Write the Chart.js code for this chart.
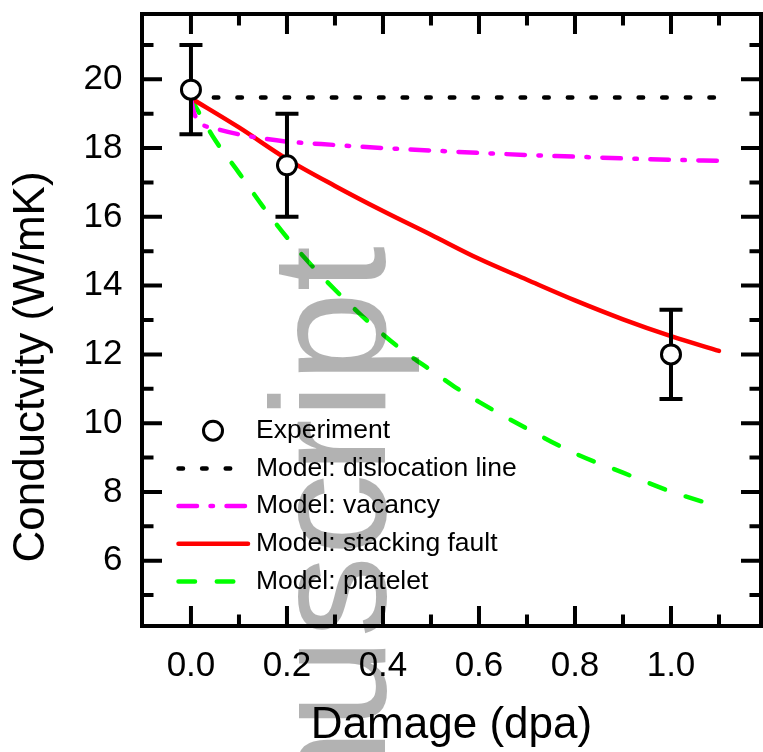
<!DOCTYPE html>
<html>
<head>
<meta charset="utf-8">
<script src="https://cdn.jsdelivr.net/npm/chart.js@4"></script>
<style>
html,body{margin:0;padding:0;background:#fff;}
canvas{display:block;}
</style>
</head>
<body>
<canvas id="c" width="763" height="752"></canvas>
<script>
// ---- data ----
const expX = [0, 0.2, 1.0];
const expY = [19.7, 17.5, 12.0];
const expErr = [1.3, 1.5, 1.3];

const dislX = [0, 1.1];
const dislY = [19.47, 19.47];

const vacX = [0, 0.005, 0.01, 0.02, 0.05, 0.1, 0.15, 0.2, 0.3, 0.4, 0.5, 0.6, 0.7, 0.8, 0.9, 1.0, 1.1];
const vacY = [19.45, 19.1, 18.9, 18.72, 18.57, 18.4, 18.28, 18.19, 18.09, 18.0, 17.93, 17.86, 17.8, 17.75, 17.7, 17.66, 17.63];

const sfX = [0, 0.1, 0.2, 0.3, 0.4, 0.5, 0.6, 0.7, 0.8, 0.9, 1.0, 1.1];
const sfY = [19.45, 18.6, 17.68, 16.9, 16.17, 15.48, 14.78, 14.17, 13.57, 13.02, 12.53, 12.1];

const plX = [0, 0.02, 0.05, 0.1, 0.15, 0.2, 0.25, 0.3, 0.35, 0.4, 0.45, 0.5, 0.55, 0.6, 0.7, 0.8, 0.9, 1.0, 1.1];
const plY = [19.45, 18.95, 18.24, 17.28, 16.3, 15.4, 14.61, 13.88, 13.2, 12.58, 12.02, 11.54, 11.05, 10.62, 9.84, 9.12, 8.56, 8.01, 7.57];

const xTicks = [0, 0.2, 0.4, 0.6, 0.8, 1.0];
const xMinor = [0.1, 0.3, 0.5, 0.7, 0.9, 1.1];
const yTicks = [6, 8, 10, 12, 14, 16, 18, 20];
const yMinor = [5, 7, 9, 11, 13, 15, 17, 19, 21];

const seriesLabels = ['Experiment', 'Model: dislocation line', 'Model: vacancy', 'Model: stacking fault', 'Model: platelet'];
const xTitle = 'Damage (dpa)';
const yTitle = 'Conductvity (W/mK)';
const watermarkText = 'Accepted Manuscript';

// ---- helpers ----
function pts(xs, ys) { return xs.map((x, i) => ({x: x, y: ys[i]})); }

const FONT = "'Liberation Sans', Arial, Helvetica, sans-serif";
Chart.defaults.font.family = FONT;
Chart.defaults.color = '#000';

const LEG = {x0: 178.5, x1: 248, cx: 213, tx: 256, y0: 430.7, dy: 37.7, size: 26.5};

function noPad(s) { s.paddingTop = 0; s.paddingBottom = 0; s.paddingLeft = 0; s.paddingRight = 0; }

const decor = {
  id: 'decor',
  beforeDatasetDraw(chart, args) {
    if (args.index !== 0) return;
    const ctx = chart.ctx, xs = chart.scales.x, ys = chart.scales.y;
    ctx.save();
    ctx.strokeStyle = '#000';
    ctx.lineWidth = 4;
    ctx.lineCap = 'butt';
    ctx.setLineDash([]);
    for (let i = 0; i < expX.length; i++) {
      const px = xs.getPixelForValue(expX[i]);
      const y1 = ys.getPixelForValue(expY[i] + expErr[i]);
      const y2 = ys.getPixelForValue(expY[i] - expErr[i]);
      ctx.beginPath();
      ctx.moveTo(px, y1); ctx.lineTo(px, y2);
      ctx.moveTo(px - 11.5, y1); ctx.lineTo(px + 11.5, y1);
      ctx.moveTo(px - 11.5, y2); ctx.lineTo(px + 11.5, y2);
      ctx.stroke();
    }
    ctx.restore();
  },
  afterDatasetsDraw(chart) {
    const ctx = chart.ctx, a = chart.chartArea, xs = chart.scales.x, ys = chart.scales.y;
    ctx.save();
    ctx.strokeStyle = '#000';
    ctx.lineWidth = 4;
    ctx.setLineDash([]);
    ctx.lineCap = 'butt';
    ctx.lineJoin = 'miter';
    ctx.strokeRect(a.left, a.top, a.right - a.left, a.bottom - a.top);
    ctx.beginPath();
    const xt = (vals, len) => vals.forEach(v => {
      const p = xs.getPixelForValue(v);
      ctx.moveTo(p, a.bottom); ctx.lineTo(p, a.bottom - len);
      ctx.moveTo(p, a.top); ctx.lineTo(p, a.top + len);
    });
    const yt = (vals, len) => vals.forEach(v => {
      const p = ys.getPixelForValue(v);
      ctx.moveTo(a.left, p); ctx.lineTo(a.left + len, p);
      ctx.moveTo(a.right, p); ctx.lineTo(a.right - len, p);
    });
    xt(xTicks, 20); xt(xMinor, 11.5);
    yt(yTicks, 20); yt(yMinor, 11.5);
    ctx.stroke();

    // legend
    const dss = chart.data.datasets;
    ctx.font = LEG.size + 'px ' + FONT;
    ctx.textAlign = 'left';
    ctx.textBaseline = 'middle';
    dss.forEach((ds, i) => {
      const y = LEG.y0 + i * LEG.dy;
      ctx.save();
      if (!ds.showLine) {
        ctx.beginPath();
        ctx.arc(LEG.cx, y, ds.pointRadius, 0, Math.PI * 2);
        ctx.fillStyle = ds.pointBackgroundColor;
        ctx.fill();
        ctx.lineWidth = ds.pointBorderWidth;
        ctx.strokeStyle = ds.pointBorderColor;
        ctx.stroke();
      } else {
        ctx.beginPath();
        ctx.setLineDash(ds.borderDash || []);
        ctx.lineDashOffset = 0;
        ctx.lineCap = ds.borderCapStyle || 'butt';
        ctx.lineWidth = ds.borderWidth;
        ctx.strokeStyle = ds.borderColor;
        ctx.moveTo(LEG.x0, y); ctx.lineTo(LEG.x1, y);
        ctx.stroke();
      }
      ctx.restore();
      ctx.fillStyle = '#000';
      ctx.fillText(ds.label, LEG.tx, y);
    });
    ctx.restore();
  },
  afterDraw(chart) {
    const ctx = chart.ctx;
    // y axis title
    ctx.save();
    ctx.translate(31.9, 367);
    ctx.rotate(-Math.PI / 2);
    ctx.font = '44px ' + FONT;
    ctx.fillStyle = '#000';
    ctx.textAlign = 'center';
    ctx.textBaseline = 'middle';
    ctx.fillText(yTitle, 0, 0);
    ctx.restore();
    // watermark
    ctx.save();
    ctx.translate(385, 246);
    ctx.rotate(-Math.PI / 2);
    ctx.font = '164px ' + FONT;
    ctx.fillStyle = 'rgba(0,0,0,0.3)';
    ctx.textAlign = 'right';
    ctx.textBaseline = 'alphabetic';
    ctx.fillText(watermarkText, 0, 0);
    ctx.restore();
  }
};

new Chart(document.getElementById('c'), {
  type: 'scatter',
  data: {
    datasets: [
      {
        label: seriesLabels[0], data: pts(expX, expY), showLine: false,
        pointRadius: 9.5, pointHoverRadius: 9.5, pointBorderWidth: 3,
        pointBackgroundColor: '#ffffff', pointBorderColor: '#000000',
        borderColor: '#000000', backgroundColor: '#ffffff'
      },
      {
        label: seriesLabels[1], data: pts(dislX, dislY), showLine: true,
        borderColor: '#000000', borderWidth: 4.5, borderDash: [4.5, 19.1], borderDashOffset: 0.75,
        borderCapStyle: 'round', pointRadius: 0, tension: 0
      },
      {
        label: seriesLabels[2], data: pts(vacX, vacY), showLine: true,
        borderColor: '#ff00ff', borderWidth: 4.5, borderDash: [18.5, 13.5, 2.5, 13.5],
        borderCapStyle: 'round', pointRadius: 0, cubicInterpolationMode: 'monotone'
      },
      {
        label: seriesLabels[3], data: pts(sfX, sfY), showLine: true,
        borderColor: '#ff0000', borderWidth: 4.5, borderCapStyle: 'round',
        pointRadius: 0, cubicInterpolationMode: 'monotone'
      },
      {
        label: seriesLabels[4], data: pts(plX, plY), showLine: true,
        borderColor: '#00ff00', borderWidth: 4.5, borderDash: [16.5, 21.8],
        borderCapStyle: 'round', pointRadius: 0, cubicInterpolationMode: 'monotone'
      }
    ]
  },
  options: {
    responsive: false,
    animation: false,
    devicePixelRatio: 1,
    events: [],
    layout: {autoPadding: false, padding: {left: 0, right: 2, top: 14, bottom: 0}},
    plugins: {legend: {display: false}, tooltip: {enabled: false}},
    scales: {
      x: {
        type: 'linear', position: 'bottom', min: -0.102, max: 1.1875,
        afterBuildTicks: s => { s.ticks = xTicks.map(v => ({value: v})); },
        afterFit: s => { s.height = 126; noPad(s); },
        grid: {display: false, drawTicks: false},
        border: {display: false},
        ticks: {
          callback: v => Number(v).toFixed(1), color: '#000',
          font: {size: 35, lineHeight: 1}, padding: 23, maxRotation: 0, autoSkip: false
        },
        title: {
          display: true, text: xTitle, color: '#000',
          font: {size: 44, lineHeight: 1}, padding: {top: 0, bottom: 4.6}
        }
      },
      y: {
        type: 'linear', position: 'left', min: 4.1, max: 21.9,
        afterBuildTicks: s => { s.ticks = yTicks.map(v => ({value: v})); },
        afterFit: s => { s.width = 142; noPad(s); },
        grid: {display: false, drawTicks: false},
        border: {display: false},
        ticks: {
          callback: v => String(v), color: '#000',
          font: {size: 35, lineHeight: 1}, padding: 19.5, autoSkip: false
        },
        title: {display: false}
      }
    }
  },
  plugins: [decor]
});
</script>
</body>
</html>
